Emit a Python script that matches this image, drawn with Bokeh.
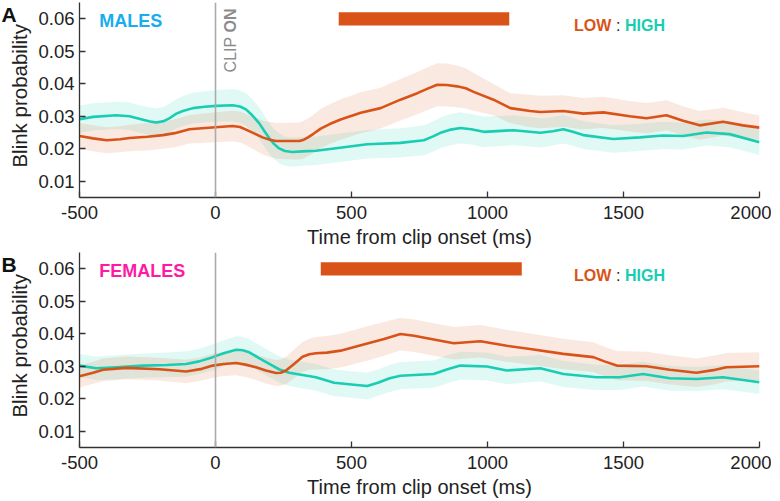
import numpy as np
from math import pi
from bokeh.plotting import figure
from bokeh.models import Range1d, FixedTicker, Span
from bokeh.layouts import column, row
from bokeh.embed import file_html
from bokeh.resources import INLINE
from bokeh.core.properties import value

ORANGE = "#D95319"
TEAL = "#19CDB3"
FONT = "Liberation Sans"

x_ticks = [-500, 0, 500, 1000, 1500, 2000]
x_tick_labels = ["-500", "0", "500", "1000", "1500", "2000"]
y_ticks = [0.01, 0.02, 0.03, 0.04, 0.05, 0.06]
y_tick_labels = ["0.01", "0.02", "0.03", "0.04", "0.05", "0.06"]

# ---- MALES (panel A) : LOW group ----
m_low_t = [-500, -450, -400, -350, -316, -250, -193, -150, -96, -50,
           0, 63, 90, 112, 140, 173, 200, 222, 260, 308,
           325, 340, 360, 387, 420, 460, 534, 607, 680, 742,
           780, 815, 850, 888, 920, 949, 1022, 1084, 1157, 1194,
           1279, 1352, 1426, 1523, 1585, 1658, 1719, 1780, 1866, 1939,
           2000]
m_low = [0.0239, 0.0232, 0.0226, 0.0229, 0.0233, 0.0237, 0.0242, 0.0248, 0.0260, 0.0263,
         0.0266, 0.0270, 0.0267, 0.0259, 0.0248, 0.0235, 0.0228, 0.0224, 0.0224, 0.0224,
         0.0228, 0.0235, 0.0246, 0.0262, 0.0276, 0.0290, 0.0311, 0.0325, 0.0351, 0.0371,
         0.0385, 0.0397, 0.0396, 0.0392, 0.0386, 0.0375, 0.0351, 0.0325, 0.0316, 0.0313,
         0.0316, 0.0308, 0.0312, 0.0300, 0.0294, 0.0303, 0.0286, 0.0272, 0.0283, 0.0272,
         0.0265]
m_low_sem = [0.0040, 0.0040, 0.0040, 0.0040, 0.0041, 0.0042, 0.0042, 0.0043, 0.0044, 0.0045,
             0.0046, 0.0047, 0.0048, 0.0048, 0.0050, 0.0052, 0.0054, 0.0055, 0.0056, 0.0057,
             0.0058, 0.0058, 0.0059, 0.0060, 0.0061, 0.0062, 0.0063, 0.0063, 0.0064, 0.0065,
             0.0066, 0.0066, 0.0066, 0.0064, 0.0062, 0.0058, 0.0048, 0.0046, 0.0050, 0.0050,
             0.0049, 0.0048, 0.0048, 0.0047, 0.0047, 0.0046, 0.0045, 0.0044, 0.0043, 0.0040,
             0.0037]

# ---- MALES (panel A) : HIGH group ----
m_high_t = [-500, -450, -364, -316, -270, -240, -218, -190, -165, -144,
            -120, -83, -40, 2, 63, 90, 112, 135, 161, 180,
            198, 215, 234, 255, 283, 320, 369, 436, 558, 680,
            766, 800, 827, 860, 900, 940, 986, 1096, 1194, 1240,
            1279, 1310, 1352, 1462, 1560, 1646, 1719, 1805, 1890, 2000]
m_high = [0.0291, 0.0298, 0.0303, 0.0300, 0.0290, 0.0284, 0.0281, 0.0285, 0.0296, 0.0308,
          0.0316, 0.0325, 0.0329, 0.0332, 0.0334, 0.0330, 0.0321, 0.0303, 0.0278, 0.0254,
          0.0232, 0.0215, 0.0201, 0.0193, 0.0190, 0.0192, 0.0194, 0.0201, 0.0214, 0.0218,
          0.0226, 0.0238, 0.0249, 0.0258, 0.0264, 0.0260, 0.0252, 0.0257, 0.0249, 0.0254,
          0.0260, 0.0253, 0.0242, 0.0230, 0.0235, 0.0241, 0.0239, 0.0250, 0.0245, 0.0220]
m_high_sem = [0.0042, 0.0042, 0.0042, 0.0042, 0.0042, 0.0043, 0.0043, 0.0044, 0.0045, 0.0045,
              0.0046, 0.0047, 0.0048, 0.0049, 0.0050, 0.0050, 0.0050, 0.0050, 0.0049, 0.0048,
              0.0047, 0.0046, 0.0046, 0.0045, 0.0045, 0.0044, 0.0044, 0.0044, 0.0044, 0.0045,
              0.0046, 0.0047, 0.0047, 0.0048, 0.0048, 0.0047, 0.0047, 0.0046, 0.0045, 0.0044,
              0.0044, 0.0043, 0.0043, 0.0042, 0.0042, 0.0042, 0.0041, 0.0040, 0.0040, 0.0039]

# ---- FEMALES (panel B) : LOW group ----
f_low_t = [-500, -450, -413, -328, -206, -108, -50, -10, 30, 76,
           110, 149, 185, 222, 240, 259, 290, 320, 345, 369,
           410, 460, 558, 620, 680, 730, 778, 876, 974, 1071,
           1157, 1279, 1389, 1430, 1475, 1585, 1670, 1768, 1830, 1878,
           2000]
f_low = [0.0269, 0.0280, 0.0289, 0.0295, 0.0291, 0.0284, 0.0292, 0.0302, 0.0307, 0.0310,
         0.0305, 0.0297, 0.0287, 0.0279, 0.0280, 0.0287, 0.0308, 0.0329, 0.0337, 0.0340,
         0.0342, 0.0348, 0.0370, 0.0384, 0.0399, 0.0394, 0.0386, 0.0371, 0.0377, 0.0363,
         0.0353, 0.0338, 0.0328, 0.0315, 0.0302, 0.0300, 0.0289, 0.0280, 0.0288, 0.0297,
         0.0300]
f_low_sem = [0.0034, 0.0034, 0.0035, 0.0035, 0.0035, 0.0036, 0.0036, 0.0037, 0.0037, 0.0038,
             0.0038, 0.0039, 0.0040, 0.0040, 0.0041, 0.0042, 0.0044, 0.0046, 0.0048, 0.0050,
             0.0051, 0.0052, 0.0053, 0.0052, 0.0050, 0.0050, 0.0050, 0.0050, 0.0050, 0.0049,
             0.0048, 0.0047, 0.0046, 0.0045, 0.0045, 0.0045, 0.0045, 0.0044, 0.0044, 0.0044,
             0.0043]

# ---- FEMALES (panel B) : HIGH group ----
f_high_t = [-500, -438, -364, -267, -180, -108, -60, -10, 30, 76,
            100, 124, 160, 198, 235, 271, 369, 436, 500, 558,
            600, 640, 680, 802, 850, 900, 998, 1071, 1194, 1279,
            1401, 1487, 1572, 1670, 1768, 1866, 2000]
f_high = [0.0302, 0.0294, 0.0297, 0.0302, 0.0304, 0.0307, 0.0315, 0.0328, 0.0340, 0.0351,
          0.0349, 0.0343, 0.0325, 0.0307, 0.0290, 0.0280, 0.0266, 0.0249, 0.0244, 0.0239,
          0.0250, 0.0263, 0.0271, 0.0276, 0.0290, 0.0302, 0.0299, 0.0287, 0.0294, 0.0276,
          0.0266, 0.0266, 0.0276, 0.0263, 0.0261, 0.0266, 0.0251]
f_high_sem = [0.0036, 0.0036, 0.0037, 0.0037, 0.0038, 0.0039, 0.0039, 0.0040, 0.0040, 0.0041,
              0.0041, 0.0041, 0.0041, 0.0041, 0.0041, 0.0041, 0.0041, 0.0041, 0.0041, 0.0041,
              0.0041, 0.0042, 0.0042, 0.0042, 0.0043, 0.0043, 0.0043, 0.0042, 0.0041, 0.0040,
              0.0039, 0.0039, 0.0038, 0.0038, 0.0037, 0.0037, 0.0036]

# significance bars (ms)
m_bar = [453, 1080]
f_bar = [387, 1126]
bar_y = [0.0579, 0.0620]

Y_MIN, Y_MAX = 0.005, 0.065
STRIP_W = 35
PANEL_H = 250


def make_strip(letter):
    # narrow companion frame (same vertical scale) holding the panel letter and the y-axis title
    s = figure(width=STRIP_W, height=PANEL_H, x_range=Range1d(0, STRIP_W), y_range=Range1d(Y_MIN, Y_MAX),
               output_backend="svg", toolbar_location=None, x_axis_location=None, y_axis_location=None,
               min_border=0)
    s.outline_line_color = None
    s.grid.visible = False
    s.text(x=[1], y=[Y_MAX], text=[letter], text_font=value(FONT), text_font_size="21px",
           text_font_style="bold", text_color="#111111", text_baseline="top", text_align="left")
    s.text(x=[7.5], y=[0.0142], text=["Blink probability"], angle=pi / 2,
           text_font=value(FONT), text_font_size="20.5px", text_color="#222222",
           text_baseline="top", text_align="left")
    return s


def make_panel(group, group_color, low_t, low, low_sem, high_t, high, high_sem, bar, clip):
    p = figure(width=771 - STRIP_W, height=PANEL_H, x_range=Range1d(-500, 2000),
               y_range=Range1d(Y_MIN, Y_MAX),
               output_backend="svg", toolbar_location=None,
               min_border_left=78 - STRIP_W, min_border_right=12, min_border_top=2, min_border_bottom=0)
    p.outline_line_color = None
    p.grid.visible = False

    lt = np.array(low_t, dtype=float)
    lv = np.array(low)
    ls = np.array(low_sem)
    ht = np.array(high_t, dtype=float)
    hv = np.array(high)
    hs = np.array(high_sem)

    p.varea(x=ht, y1=hv - hs, y2=hv + hs, fill_color=TEAL, fill_alpha=0.13)
    p.varea(x=lt, y1=lv - ls, y2=lv + ls, fill_color=ORANGE, fill_alpha=0.13)

    p.add_layout(Span(location=0, dimension="height", line_color="#ABABAB", line_width=1.6))

    p.line(ht, hv, line_color=TEAL, line_width=2.6, line_join="round")
    p.line(lt, lv, line_color=ORANGE, line_width=2.6, line_join="round")

    p.quad(left=[bar[0]], right=[bar[1]], bottom=[bar_y[0]], top=[bar_y[1]],
           fill_color=ORANGE, line_color=None)

    p.text(x=[-427], y=[0.0592], text=[group], text_font=value(FONT), text_font_size="18px",
           text_font_style="bold", text_color=group_color, text_baseline="alphabetic", text_align="left")

    p.text(x=[1318], y=[0.0579], text=["LOW"], text_font=value(FONT), text_font_size="16px",
           text_font_style="bold", text_color=ORANGE, text_baseline="alphabetic", text_align="left")
    p.text(x=[1318], y=[0.0579], text=[":"], x_offset=42, text_font=value(FONT), text_font_size="16px",
           text_color="#222222", text_baseline="alphabetic", text_align="left")
    p.text(x=[1318], y=[0.0579], text=["HIGH"], x_offset=51, text_font=value(FONT), text_font_size="16px",
           text_font_style="bold", text_color=TEAL, text_baseline="alphabetic", text_align="left")

    if clip:
        p.text(x=[25], y=[0.0435], text=["CLIP"], angle=pi / 2, text_font=value(FONT),
               text_font_size="16px", text_color="#8C8C8C", text_baseline="top", text_align="left")
        p.text(x=[25], y=[0.0435], text=["ON"], angle=pi / 2, y_offset=-40, text_font=value(FONT),
               text_font_size="16px", text_font_style="bold", text_color="#8C8C8C",
               text_baseline="top", text_align="left")

    for ax in (p.xaxis[0], p.yaxis[0]):
        ax.axis_line_color = "#333333"
        ax.axis_line_width = 1.3
        ax.major_tick_line_color = "#333333"
        ax.major_tick_line_width = 1.3
        ax.major_tick_in = 6
        ax.major_tick_out = 0
        ax.minor_tick_line_color = None
        ax.major_label_text_font = FONT
        ax.major_label_text_font_size = "18.5px"
        ax.major_label_text_color = "#222222"
        ax.axis_label_text_font = FONT
        ax.axis_label_text_font_size = "20px"
        ax.axis_label_text_font_style = "normal"
        ax.axis_label_text_color = "#222222"

    p.xaxis.ticker = FixedTicker(ticks=x_ticks)
    p.xaxis.major_label_overrides = dict(zip(x_ticks, x_tick_labels))
    p.yaxis.ticker = FixedTicker(ticks=y_ticks)
    p.yaxis.major_label_overrides = dict(zip(y_ticks, y_tick_labels))
    p.xaxis.axis_label = "Time from clip onset (ms)"
    p.xaxis.major_label_standoff = 8
    p.xaxis.axis_label_standoff = 4
    p.yaxis.major_label_standoff = 5
    return p


for a, b in [(m_low_t, m_low), (m_low_t, m_low_sem), (m_high_t, m_high), (m_high_t, m_high_sem),
             (f_low_t, f_low), (f_low_t, f_low_sem), (f_high_t, f_high), (f_high_t, f_high_sem)]:
    assert len(a) == len(b)

p1 = make_panel("MALES", "#17ADEE", m_low_t, m_low, m_low_sem, m_high_t, m_high, m_high_sem, m_bar, True)
p2 = make_panel("FEMALES", "#FF1AA6", f_low_t, f_low, f_low_sem, f_high_t, f_high, f_high_sem, f_bar, False)
s1 = make_strip("A")
s2 = make_strip("B")

layout = column(row(s1, p1, spacing=0), row(s2, p2, spacing=0), spacing=0)
open("out.html", "w").write(file_html(layout, INLINE))
